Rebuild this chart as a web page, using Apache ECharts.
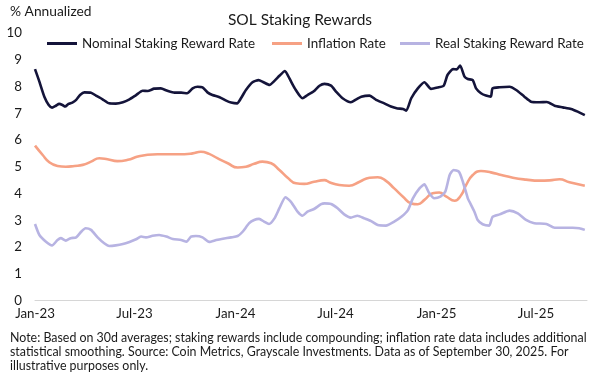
<!DOCTYPE html>
<html><head><meta charset="utf-8">
<script src="https://cdn.jsdelivr.net/npm/echarts@6/dist/echarts.min.js"></script>
<style>html,body{margin:0;padding:0;background:#fff}#c{width:600px;height:379px}</style>
</head><body><div id="c"></div>
<script>
const seriesNames = ['Nominal Staking Reward Rate', 'Inflation Rate', 'Real Staking Reward Rate'];

const nominalDates = ['2023-01-01','2023-01-09','2023-01-18','2023-01-26','2023-02-01','2023-02-08','2023-02-14','2023-02-20','2023-02-25','2023-03-03','2023-03-10','2023-03-17','2023-03-24','2023-04-01','2023-04-13','2023-04-22','2023-05-04','2023-05-16','2023-05-28','2023-06-10','2023-06-22','2023-07-04','2023-07-16','2023-07-25','2023-08-06','2023-08-18','2023-08-30','2023-09-12','2023-09-24','2023-10-05','2023-10-15','2023-10-24','2023-11-02','2023-11-11','2023-11-20','2023-12-03','2023-12-15','2023-12-24','2024-01-04','2024-01-11','2024-01-20','2024-02-01','2024-02-12','2024-02-21','2024-03-03','2024-03-12','2024-03-21','2024-03-31','2024-04-08','2024-04-18','2024-05-02','2024-05-11','2024-05-22','2024-06-02','2024-06-11','2024-06-23','2024-07-02','2024-07-14','2024-07-29','2024-08-08','2024-08-17','2024-09-01','2024-09-13','2024-09-28','2024-10-10','2024-10-22','2024-11-01','2024-11-07','2024-11-16','2024-11-28','2024-12-10','2024-12-22','2025-01-03','2025-01-14','2025-01-21','2025-01-31','2025-02-07','2025-02-13','2025-02-21','2025-02-27','2025-03-08','2025-03-14','2025-03-23','2025-04-01','2025-04-10','2025-04-13','2025-04-26','2025-05-14','2025-05-26','2025-06-10','2025-06-22','2025-07-07','2025-07-21','2025-08-04','2025-08-19','2025-09-03','2025-09-15','2025-09-28'];
const nominalValues = [8.65,8.18,7.62,7.31,7.21,7.28,7.35,7.31,7.25,7.35,7.40,7.50,7.68,7.78,7.77,7.66,7.52,7.37,7.36,7.41,7.52,7.68,7.84,7.83,7.92,7.93,7.84,7.77,7.77,7.75,7.93,7.99,7.97,7.78,7.68,7.60,7.47,7.40,7.37,7.56,7.87,8.16,8.24,8.16,8.06,8.21,8.40,8.58,8.31,7.93,7.56,7.68,7.81,8.03,8.10,8.03,7.81,7.56,7.41,7.52,7.62,7.66,7.50,7.37,7.25,7.18,7.16,7.10,7.56,7.93,8.16,7.91,7.96,8.03,8.43,8.65,8.64,8.78,8.37,8.28,8.24,7.93,7.75,7.66,7.62,7.93,7.97,7.99,7.87,7.62,7.43,7.41,7.42,7.28,7.22,7.16,7.06,6.93];

const inflationDates = ['2023-01-01','2023-01-15','2023-01-27','2023-02-11','2023-02-26','2023-03-14','2023-03-29','2023-04-13','2023-04-28','2023-05-13','2023-05-31','2023-06-19','2023-07-07','2023-07-25','2023-08-12','2023-08-30','2023-09-18','2023-09-30','2023-10-15','2023-10-30','2023-11-14','2023-11-29','2023-12-18','2024-01-05','2024-01-20','2024-02-04','2024-02-19','2024-03-06','2024-03-21','2024-04-05','2024-04-20','2024-05-05','2024-05-23','2024-06-11','2024-06-20','2024-07-08','2024-07-26','2024-08-14','2024-09-01','2024-09-16','2024-10-01','2024-10-16','2024-11-01','2024-11-16','2024-11-28','2024-12-10','2024-12-25','2025-01-06','2025-01-19','2025-02-03','2025-02-15','2025-02-24','2025-03-08','2025-03-23','2025-04-10','2025-04-29','2025-05-20','2025-06-13','2025-07-07','2025-07-26','2025-08-13','2025-08-31','2025-09-28'];
const inflationValues = [5.79,5.44,5.17,5.03,5.00,5.03,5.07,5.19,5.32,5.28,5.21,5.26,5.38,5.45,5.47,5.47,5.47,5.47,5.50,5.56,5.48,5.32,5.13,4.97,5.00,5.11,5.19,5.13,4.88,4.59,4.38,4.36,4.44,4.50,4.42,4.32,4.29,4.44,4.59,4.61,4.47,4.19,3.88,3.63,3.60,3.76,4.01,4.04,3.88,3.73,3.94,4.32,4.69,4.84,4.79,4.69,4.59,4.52,4.48,4.49,4.53,4.42,4.29];

const realDates = ['2023-01-01','2023-01-09','2023-01-21','2023-02-01','2023-02-11','2023-02-17','2023-02-26','2023-03-07','2023-03-17','2023-03-26','2023-04-03','2023-04-13','2023-04-25','2023-05-07','2023-05-16','2023-05-28','2023-06-10','2023-06-22','2023-07-04','2023-07-13','2023-07-22','2023-08-03','2023-08-15','2023-08-28','2023-09-09','2023-09-24','2023-10-04','2023-10-12','2023-10-21','2023-11-02','2023-11-14','2023-11-27','2023-12-09','2023-12-24','2024-01-05','2024-01-14','2024-01-26','2024-02-04','2024-02-13','2024-02-22','2024-03-02','2024-03-12','2024-03-21','2024-04-01','2024-04-11','2024-04-23','2024-05-02','2024-05-11','2024-05-23','2024-06-05','2024-06-11','2024-06-23','2024-07-05','2024-07-17','2024-07-29','2024-08-10','2024-08-23','2024-09-04','2024-09-16','2024-10-01','2024-10-16','2024-10-29','2024-11-10','2024-11-19','2024-12-01','2024-12-10','2024-12-18','2024-12-28','2025-01-08','2025-01-17','2025-01-25','2025-02-01','2025-02-11','2025-02-18','2025-02-27','2025-03-02','2025-03-11','2025-03-17','2025-03-26','2025-04-07','2025-04-13','2025-04-26','2025-05-14','2025-05-29','2025-06-13','2025-06-28','2025-07-20','2025-08-04','2025-08-19','2025-09-06','2025-09-18','2025-09-28'];
const realValues = [2.86,2.45,2.20,2.06,2.26,2.33,2.24,2.33,2.36,2.57,2.70,2.64,2.36,2.14,2.04,2.06,2.11,2.19,2.29,2.39,2.36,2.42,2.45,2.39,2.30,2.26,2.20,2.39,2.41,2.36,2.19,2.26,2.31,2.36,2.41,2.57,2.89,3.01,3.05,2.95,2.86,3.07,3.45,3.86,3.69,3.32,3.17,3.32,3.42,3.60,3.63,3.61,3.45,3.22,3.10,3.17,3.07,2.97,2.82,2.80,2.95,3.13,3.38,3.82,4.19,4.34,4.04,3.82,3.88,4.07,4.69,4.88,4.81,4.44,3.82,3.69,3.32,3.01,2.85,2.80,3.13,3.22,3.36,3.26,3.01,2.89,2.86,2.72,2.72,2.72,2.70,2.64];

const xTickDates = ['2023-01-01','2023-07-01','2024-01-01','2024-07-01','2025-01-01','2025-07-01'];
const xTickLabels = ['Jan-23','Jul-23','Jan-24','Jul-24','Jan-25','Jul-25'];
const xRange = ['2023-01-01','2025-10-02'];
const yMin = 0, yMax = 10, yStep = 1;

const colors = ['#14143a', '#f6a184', '#b7b3e2'];
const FONT = 'Lato';

function ts(d) { const p = d.split('-').map(Number); return Date.UTC(p[0], p[1] - 1, p[2]); }
function pairs(ds, vs) { return ds.map((d, i) => [ts(d), vs[i]]); }
const tickTs = xTickDates.map(ts);
const labelMap = {}; tickTs.forEach((t, i) => { labelMap[t] = xTickLabels[i]; });

const chart = echarts.init(document.getElementById('c'), null, { renderer: 'canvas' });
const legendBase = {
  top: 32, itemWidth: 30, itemHeight: 3, icon: 'rect', itemGap: 0,
  textStyle: { fontFamily: FONT, fontSize: 13.4, color: '#1a1a1a' },
  selectedMode: false
};
chart.setOption({
  animation: false,
  color: colors,
  title: {
    text: 'SOL Staking Rewards', left: 'center', top: 7,
    textStyle: { fontFamily: FONT, fontSize: 15.5, fontWeight: 'normal', color: '#1a1a1a' }
  },
  legend: [
    Object.assign({}, legendBase, { left: 42, data: [seriesNames[0]] }),
    Object.assign({}, legendBase, { left: 267, data: [seriesNames[1]] }),
    Object.assign({}, legendBase, { left: 395, data: [seriesNames[2]] })
  ],
  grid: { left: 35, right: 13, top: 33, bottom: 78.5 },
  xAxis: {
    type: 'value', min: ts(xRange[0]), max: ts(xRange[1]),
    axisLine: { show: true, onZero: false, lineStyle: { color: '#d6d6d6', width: 1 } },
    axisTick: { show: false },
    splitLine: { show: false },
    axisLabel: {
      customValues: tickTs, margin: 7, showMinLabel: true, showMaxLabel: true,
      fontFamily: FONT, fontSize: 13.3, color: '#1a1a1a',
      formatter: v => labelMap[v] || ''
    }
  },
  yAxis: {
    type: 'value', min: yMin, max: yMax, interval: yStep,
    axisLine: { show: false }, axisTick: { show: false }, splitLine: { show: false },
    axisLabel: { margin: 13, fontFamily: FONT, fontSize: 13.3, color: '#1a1a1a' }
  },
  graphic: [
    { type: 'text', left: 10, top: 5, style: { text: '% Annualized', fontFamily: FONT, fontSize: 13.8, fill: '#1a1a1a' } },
    { type: 'text', left: 10, top: 331, style: {
      text: 'Note: Based on 30d averages; staking rewards include compounding; inflation rate data includes additional\nstatistical smoothing. Source: Coin Metrics, Grayscale Investments. Data as of September 30, 2025. For\nillustrative purposes only.',
      fontFamily: FONT, fontSize: 12.4, lineHeight: 14, fill: '#1a1a1a' } }
  ],
  series: [
    { name: seriesNames[0], type: 'line', showSymbol: false, smooth: 0.2, data: pairs(nominalDates, nominalValues), lineStyle: { width: 2.6, color: colors[0] } },
    { name: seriesNames[1], type: 'line', showSymbol: false, smooth: 0.5, data: pairs(inflationDates, inflationValues), lineStyle: { width: 2.6, color: colors[1] } },
    { name: seriesNames[2], type: 'line', showSymbol: false, smooth: 0.2, data: pairs(realDates, realValues), lineStyle: { width: 2.6, color: colors[2] } }
  ]
});
</script></body></html>
